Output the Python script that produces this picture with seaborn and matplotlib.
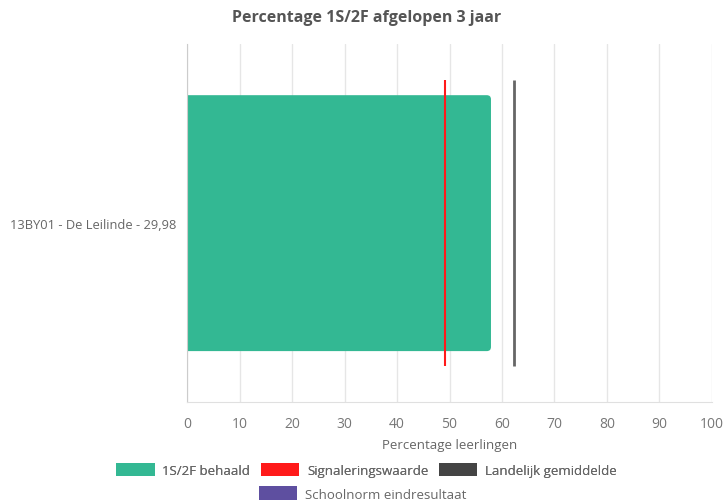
import matplotlib
matplotlib.use("Agg")
import matplotlib.pyplot as plt
import seaborn as sns
import pandas as pd
from matplotlib.patches import Patch, FancyBboxPatch

categories = ["13BY01 - De Leilinde - 29,98"]
behaald = [57.9]
signaleringswaarde = [49.2]
landelijk = [62.3]
legend_labels = ["1S/2F behaald", "Signaleringswaarde", "Landelijk gemiddelde", "Schoolnorm eindresultaat"]
colors = ["#33b893", "#ff1a1a", "#444444", "#5e4fa0"]

sns.set_style("white")
plt.rcParams["font.family"] = ["Open Sans", "DejaVu Sans"]

df = pd.DataFrame({"school": categories, "pct": behaald})

fig = plt.figure(figsize=(7.26, 5.02), dpi=100)
ax = fig.add_axes([0.2576, 0.197, 0.7231, 0.713])

sns.barplot(data=df, x="pct", y="school", orient="h", color=colors[0],
            saturation=1, width=0.715, ax=ax, zorder=2)

# rounded right end like the original
for p in list(ax.patches):
    x0, y0 = p.get_x(), p.get_y()
    w, h = p.get_width(), p.get_height()
    rp = FancyBboxPatch((x0 - 2, y0), w + 2, h,
                        boxstyle="round,pad=0,rounding_size=0.8",
                        mutation_aspect=0.0145, facecolor=colors[0],
                        edgecolor="none", zorder=2)
    p.remove()
    ax.add_patch(rp)

ax.vlines(signaleringswaarde, -0.4, 0.4, color=colors[1], lw=1.5, zorder=3)
ax.vlines(landelijk, -0.4, 0.4, color="#666666", lw=2, zorder=3)

ax.set_xlim(0, 100)
ax.set_ylim(0.5, -0.5)
ax.set_xticks(range(0, 101, 10))
ax.grid(axis="x", color="#e6e6e6", lw=1, zorder=0)
ax.set_axisbelow(True)
for s in ["top", "right"]:
    ax.spines[s].set_visible(False)
ax.spines["left"].set_color("#cccccc")
ax.spines["bottom"].set_color("#e0e0e0")
ax.tick_params(axis="x", length=7, color="#e0e0e0", labelsize=10, labelcolor="#777777", pad=3)
ax.tick_params(axis="y", length=0, labelsize=9.3, labelcolor="#666666", pad=8)
ax.set_xlabel("Percentage leerlingen", fontsize=9.5, color="#666666", labelpad=5)
ax.set_ylabel("")
fig.suptitle("Percentage 1S/2F afgelopen 3 jaar", x=0.505, y=0.965, va="center",
             fontsize=11.5, fontweight="bold", color="#555555")

handles = [Patch(facecolor=c, edgecolor="none") for c in colors]
leg1 = fig.legend(handles[:3], legend_labels[:3], loc="center", bbox_to_anchor=(0.505, 0.062),
                  ncol=3, frameon=False, fontsize=9.5, handlelength=2.9, handleheight=1.2,
                  columnspacing=0.8, handletextpad=0.6, labelcolor="#666666")
leg2 = fig.legend(handles[3:], legend_labels[3:], loc="center", bbox_to_anchor=(0.5, 0.015),
                  ncol=1, frameon=False, fontsize=9.5, handlelength=2.9, handleheight=1.2,
                  handletextpad=0.6, labelcolor="#666666")
fig.add_artist(leg1)

fig.savefig("out.png", dpi=100)
